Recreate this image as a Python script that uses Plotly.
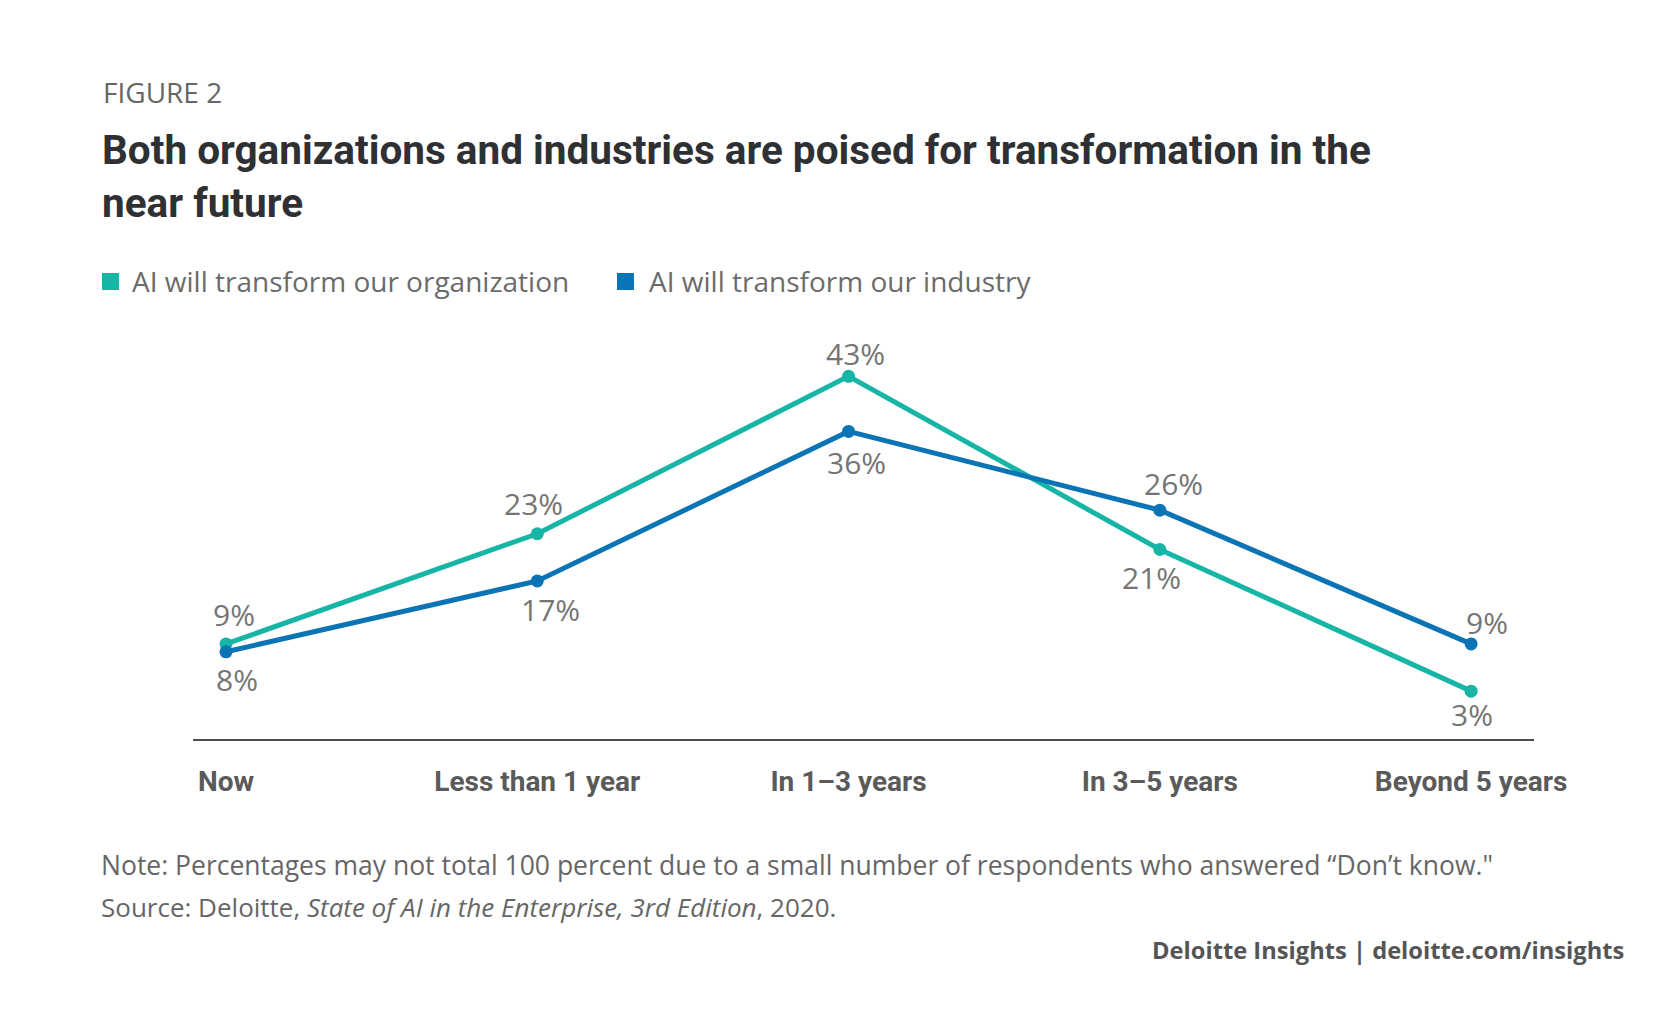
import plotly.graph_objects as go

categories = ["Now", "Less than 1 year", "In 1–3 years", "In 3–5 years", "Beyond 5 years"]
org_values = [9, 23, 43, 21, 3]
ind_values = [8, 17, 36, 26, 9]
series_names = ["AI will transform our organization", "AI will transform our industry"]

# label placement styles (pixel offsets)
org_shift = [(8, 29), (-4, 30), (7, 23), (-8, -28), (1, -23)]
ind_shift = [(11, -28), (13, -29), (8, -31), (14, 27), (16, 21)]

TEAL = "#17B5A5"
BLUE = "#0B74B5"
LABEL_GRAY = "#757575"
DARK = "#2F3033"
COND = "Roboto"

OFF = 8  # page body margin
W, H = 1652, 998
L, T = 193 - OFF, 321 - OFF
PW, PH = 1341, 418
R, B = W - L - PW, H - T - PH


def px(sx):
    return (sx - OFF - L) / PW


def py(sy):
    return (T + PH - (sy - OFF)) / PH


xs = list(range(len(categories)))

fig = go.Figure()
fig.add_trace(go.Scatter(x=xs, y=org_values, mode="lines+markers", name=series_names[0],
                         line=dict(color=TEAL, width=5), marker=dict(size=13, color=TEAL),
                         showlegend=False, hoverinfo="skip"))
fig.add_trace(go.Scatter(x=xs, y=ind_values, mode="lines+markers", name=series_names[1],
                         line=dict(color=BLUE, width=5), marker=dict(size=13, color=BLUE),
                         showlegend=False, hoverinfo="skip"))

ann = []
for vals, shifts in ((org_values, org_shift), (ind_values, ind_shift)):
    for i, v in enumerate(vals):
        ann.append(dict(x=xs[i], y=v, xref="x", yref="y", text=f"{v}%", showarrow=False,
                        xshift=shifts[i][0], yshift=shifts[i][1], yanchor="middle", xanchor="center",
                        font=dict(family="Open Sans", size=30, color=LABEL_GRAY)))

# header texts
ann.append(dict(x=px(101), y=py(92), xref="paper", yref="paper", xanchor="left", yanchor="middle",
                text="FIGURE 2", showarrow=False,
                font=dict(family="Open Sans", size=28, color="#666666")))
ann.append(dict(x=px(100), y=py(150), xref="paper", yref="paper", xanchor="left", yanchor="middle",
                text="Both organizations and industries are poised for transformation in the", showarrow=False,
                font=dict(family=COND, size=40.5, color=DARK, weight="bold")))
ann.append(dict(x=px(100), y=py(203), xref="paper", yref="paper", xanchor="left", yanchor="middle",
                text="near future", showarrow=False,
                font=dict(family=COND, size=40.5, color=DARK, weight="bold")))

# legend
leg = [(102, 130, TEAL, series_names[0]), (617, 647, BLUE, series_names[1])]
shapes = []
for sx, tx, col, name in leg:
    shapes.append(dict(type="rect", xref="paper", yref="paper", x0=px(sx), x1=px(sx + 17),
                       y0=py(290), y1=py(273), fillcolor=col, line=dict(width=0)))
    ann.append(dict(x=px(tx), y=py(281), xref="paper", yref="paper", xanchor="left", yanchor="middle",
                    text=name, showarrow=False,
                    font=dict(family="Open Sans", size=28, color="#6B6B6B")))

# footer
ann.append(dict(x=px(99), y=py(865), xref="paper", yref="paper", xanchor="left", yanchor="middle",
                text="Note: Percentages may not total 100 percent due to a small number of respondents who answered “Don’t know.\"",
                showarrow=False, font=dict(family="Open Sans", size=26.5, color="#666666")))
ann.append(dict(x=px(99), y=py(907), xref="paper", yref="paper", xanchor="left", yanchor="middle",
                text="Source: Deloitte, <i>State of AI in the Enterprise, 3rd Edition</i>, 2020.",
                showarrow=False, font=dict(family="Open Sans", size=26, color="#666666")))
ann.append(dict(x=px(1626), y=py(950), xref="paper", yref="paper", xanchor="right", yanchor="middle",
                text="Deloitte Insights | deloitte.com/insights",
                showarrow=False, font=dict(family="Open Sans", size=23.7, color="#555555", weight="bold")))

fig.update_layout(
    width=W, height=H,
    margin=dict(l=L, r=R, t=T, b=B, pad=0),
    paper_bgcolor="white", plot_bgcolor="white",
    annotations=ann, shapes=shapes,
    xaxis=dict(range=[-0.106, 4.202], tickmode="array", tickvals=xs, ticktext=categories,
               showgrid=False, zeroline=False, showline=True, linecolor="#4D4D4D", linewidth=2,
               ticks="", ticklabelstandoff=16,
               tickfont=dict(family=COND, size=28, color="#5A5A5A", weight="bold")),
    yaxis=dict(range=[-3.08, 50.03], visible=False, showgrid=False, zeroline=False),
)

fig.write_html("out.html")
